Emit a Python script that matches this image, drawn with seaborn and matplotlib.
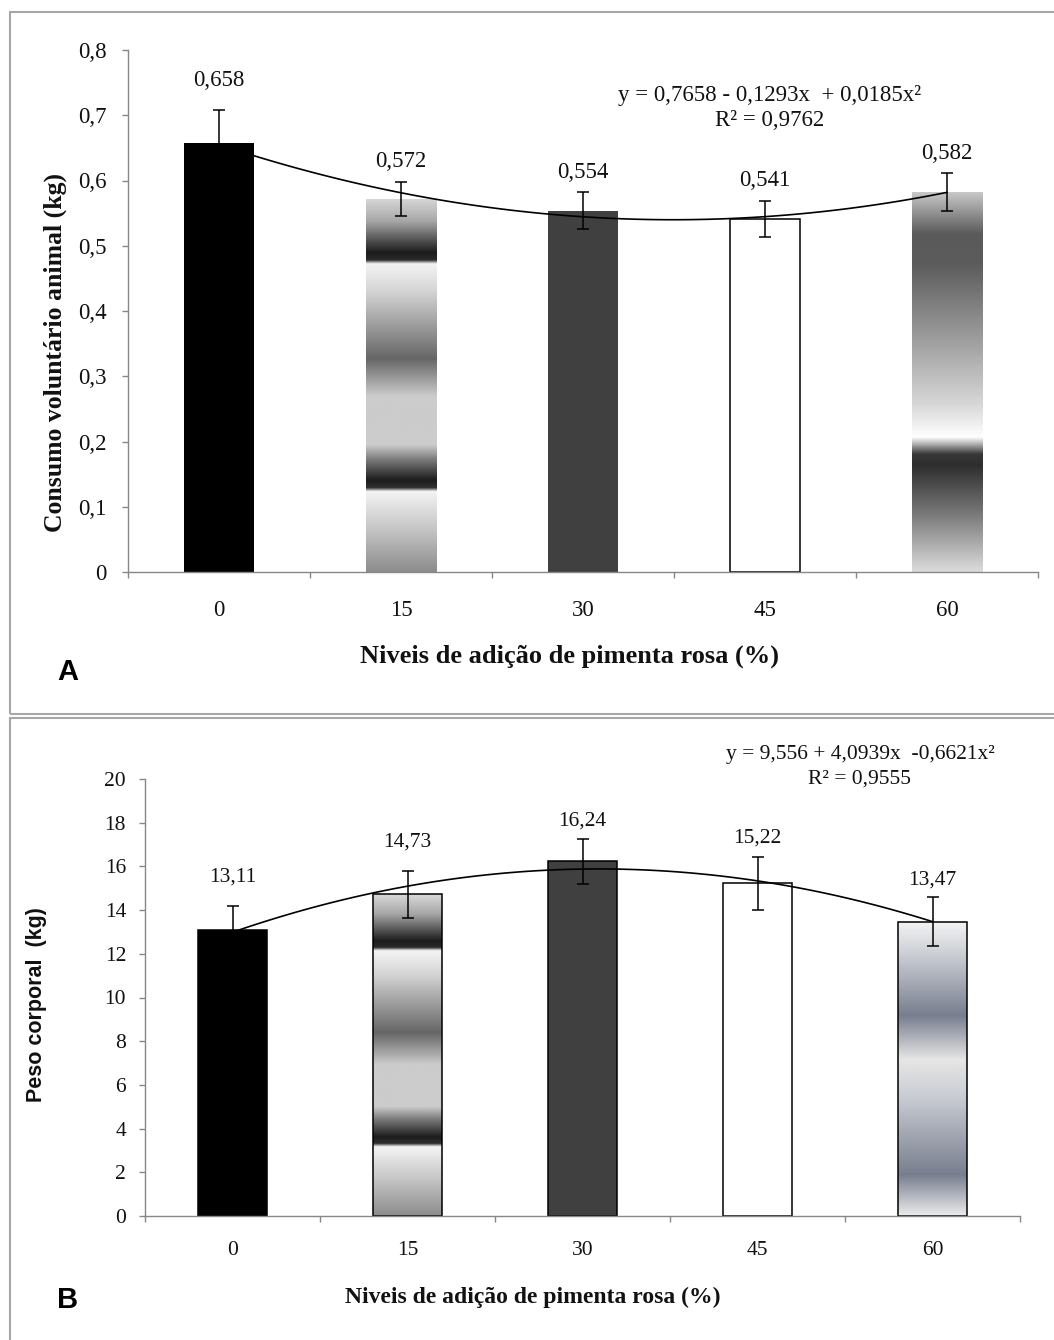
import numpy as np
import pandas as pd
import matplotlib
matplotlib.use("Agg")
import matplotlib.pyplot as plt
import seaborn as sns
from matplotlib.colors import LinearSegmentedColormap
from matplotlib.patches import Rectangle
from matplotlib.ticker import FuncFormatter, MultipleLocator

# ---------------- data ----------------
levels = [0, 15, 30, 45, 60]
consumo_mean = [0.658, 0.572, 0.554, 0.541, 0.582]
consumo_err = [0.050, 0.026, 0.028, 0.027, 0.029]
peso_mean = [13.11, 14.73, 16.24, 15.22, 13.47]
peso_err = [1.08, 1.07, 1.03, 1.20, 1.13]

eq_a = "y = 0,7658 - 0,1293x  + 0,0185x²"
r2_a = "R² = 0,9762"
eq_b = "y = 9,556 + 4,0939x  -0,6621x²"
r2_b = "R² = 0,9555"

xlabel_txt = "Niveis de adição de pimenta rosa (%)"
ylabel_a = "Consumo voluntário animal (kg)"
ylabel_b = "Peso corporal  (kg)"

# ---------------- styles ----------------
sns.set_theme(style="white")
plt.rcParams["font.family"] = ["Liberation Serif", "DejaVu Serif"]

W, H = 1054, 1340
GREY = "#878787"

stripes = [(0.00, "#d8d8d8"), (0.06, "#a8a8a8"), (0.145, "#1c1c1c"), (0.165, "#2a2a2a"),
           (0.175, "#f4f4f4"), (0.25, "#d4d4d4"), (0.43, "#666666"), (0.53, "#cccccc"),
           (0.66, "#cccccc"), (0.70, "#7a7a7a"), (0.755, "#1c1c1c"), (0.775, "#303030"),
           (0.785, "#f4f4f4"), (0.88, "#c8c8c8"), (1.00, "#8c8c8c")]
chrome = [(0.00, "#c8c8c8"), (0.11, "#5a5a5a"), (0.19, "#5c5c5c"), (0.42, "#a8a8a8"),
          (0.56, "#d8d8d8"), (0.645, "#ffffff"), (0.66, "#c0c0c0"), (0.69, "#383838"),
          (0.72, "#2e2e2e"), (0.85, "#7a7a7a"), (1.00, "#dcdcdc")]
steel = [(0.00, "#f4f4f4"), (0.12, "#c8ccd2"), (0.32, "#787e8e"), (0.47, "#e6e6e6"),
         (0.60, "#c8ccd2"), (0.86, "#787e8e"), (1.00, "#ececec")]

styles_a = [("solid", "#000000", "none"), ("grad", stripes, "none"), ("solid", "#404040", "none"),
            ("solid", "#ffffff", "#000000"), ("grad", chrome, "none")]
styles_b = [("solid", "#000000", "#000000"), ("grad", stripes, "#000000"), ("solid", "#404040", "#000000"),
            ("solid", "#ffffff", "#000000"), ("grad", steel, "#000000")]

label_off_a = [21, 14.5, 14.5, 15, 14.5]
label_off_b = [21, 21, 12.5, 13.5, 12.5]


def gradient_fill(ax, patch, stops):
    cmap = LinearSegmentedColormap.from_list("g", stops, N=512)
    grad = np.linspace(0, 1, 512).reshape(-1, 1)
    x0, y0 = patch.get_x(), patch.get_y()
    w, h = patch.get_width(), patch.get_height()
    im = ax.imshow(grad, cmap=cmap, aspect="auto", origin="upper",
                   extent=(x0, x0 + w, y0, y0 + h), interpolation="bilinear",
                   zorder=patch.get_zorder() - 0.05)
    im.set_clip_path(patch)


def panel(ax, means, errs, styles, offsets, ylim, ystep, yfmt, lab_fmt, fs_tick, fs_lab, xpad, ypad):
    df = pd.DataFrame({"nivel": levels, "valor": means})
    sns.barplot(data=df, x="nivel", y="valor", ax=ax, width=0.39, color="black",
                saturation=1, errorbar=None, zorder=2)
    patches = list(ax.patches)
    for p, (kind, col, ec) in zip(patches, styles):
        p.set_edgecolor(ec)
        p.set_linewidth(1.1 if ec != "none" else 0)
        if kind == "solid":
            p.set_facecolor(col)
        else:
            p.set_facecolor("none")
            gradient_fill(ax, p, col)
    centers = [p.get_x() + p.get_width() / 2 for p in patches]
    ax.errorbar(centers, means, yerr=errs, fmt="none", ecolor="black",
                elinewidth=1.1, capsize=4.2, capthick=1.1, zorder=5)
    sns.regplot(x=np.arange(len(means)), y=np.array(means), order=2, ci=None,
                scatter=False, truncate=True, ax=ax,
                line_kws={"color": "black", "lw": 1.2, "zorder": 4})
    for c, m, e, off in zip(centers, means, errs, offsets):
        ax.annotate(lab_fmt(m), xy=(c, m + e), xytext=(0, off), textcoords="offset points",
                    ha="center", va="center", fontsize=fs_lab, color="#111111")
    ax.set_xlim(-0.5, len(means) - 0.5)
    ax.set_ylim(*ylim)
    ax.yaxis.set_major_locator(MultipleLocator(ystep))
    ax.yaxis.set_major_formatter(FuncFormatter(yfmt))
    ax.set_xticks(np.arange(len(levels)))
    ax.set_xticklabels([str(v) for v in levels])
    ax.set_xticks(np.arange(-0.5, len(levels), 1), minor=True)
    ax.tick_params(axis="x", which="major", length=0, pad=xpad, labelsize=fs_tick, colors="#111111")
    ax.tick_params(axis="x", which="minor", length=4.3, width=1, color=GREY, direction="out", bottom=True)
    ax.tick_params(axis="y", which="major", length=4.6, width=1, color=GREY, direction="out",
                   left=True, pad=ypad, labelsize=fs_tick, labelcolor="#111111")
    ax.set_xlabel("")
    ax.set_ylabel("")
    for s in ["top", "right"]:
        ax.spines[s].set_visible(False)
    for s in ["left", "bottom"]:
        ax.spines[s].set_color(GREY)
        ax.spines[s].set_linewidth(1.0)
    ax.set_facecolor("white")


fig = plt.figure(figsize=(W / 100, H / 100), dpi=100)
fig.patch.set_facecolor("white")

# panel frames
for (x0, y0, x1, y1) in [(10, 12, 1062, 714), (10, 718, 1062, 1348)]:
    fig.patches.append(Rectangle((x0 / W, 1 - y1 / H), (x1 - x0) / W, (y1 - y0) / H,
                                 transform=fig.transFigure, fill=False,
                                 edgecolor="#a6a6a6", lw=1.5, zorder=0))

axA = fig.add_axes([128 / W, 1 - 572 / H, 910 / W, 522 / H])
axB = fig.add_axes([145 / W, 1 - 1216 / H, 875 / W, 437 / H])

panel(axA, consumo_mean, consumo_err, styles_a, label_off_a, (0, 0.8), 0.1,
      lambda v, p: ("0" if abs(v) < 1e-9 else f"{v:.1f}".replace(".", ",")),
      lambda m: f"{m:.3f}".replace(".", ","), 16.5, 16.5, 20, 11)
panel(axB, peso_mean, peso_err, styles_b, label_off_b, (0, 20), 2,
      lambda v, p: f"{v:.0f}",
      lambda m: f"{m:.2f}".replace(".", ","), 15.5, 15.5, 18, 9)

# equations
fig.text(770 / W, 1 - 95 / H, eq_a, ha="center", va="center", fontsize=16.5, color="#111111")
fig.text(770 / W, 1 - 121 / H, r2_a, ha="center", va="center", fontsize=16.5, color="#111111")
fig.text(860 / W, 1 - 755 / H, eq_b, ha="center", va="center", fontsize=15.5, color="#111111")
fig.text(860 / W, 1 - 779 / H, r2_b, ha="center", va="center", fontsize=15.5, color="#111111")

# axis labels
fig.text(55 / W, 1 - 352 / H, ylabel_a, rotation=90, ha="center", va="center",
         fontsize=18.5, fontweight="bold", color="#111111")
fig.text(569 / W, 1 - 656 / H, xlabel_txt, ha="center", va="center",
         fontsize=19, fontweight="bold", color="#111111")
fig.text(37 / W, 1 - 1005 / H, ylabel_b, rotation=90, ha="center", va="center",
         fontsize=15.5, fontweight="bold", color="#111111", family=["Liberation Sans", "DejaVu Sans"])
fig.text(533 / W, 1 - 1297 / H, xlabel_txt, ha="center", va="center",
         fontsize=17, fontweight="bold", color="#111111")

# panel letters
fig.text(68 / W, 1 - 672 / H, "A", ha="center", va="center", fontsize=21,
         fontweight="bold", family=["Liberation Sans", "DejaVu Sans"], color="black")
fig.text(68 / W, 1 - 1300 / H, "B", ha="center", va="center", fontsize=21,
         fontweight="bold", family=["Liberation Sans", "DejaVu Sans"], color="black")

fig.savefig("out.png", dpi=100, facecolor="white")
